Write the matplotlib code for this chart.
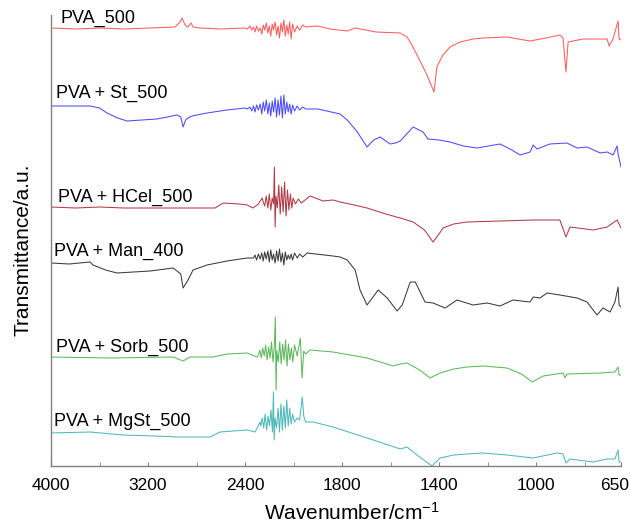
import numpy as np
import matplotlib
matplotlib.use('Agg')
import matplotlib.pyplot as plt
import matplotlib.transforms as mtransforms

plt.rcParams['font.family'] = ['Liberation Sans', 'DejaVu Sans']
plt.rcParams['mathtext.default'] = 'regular'

noise_wn = [2380, 2360, 2345, 2330, 2318, 2305, 2290, 2275, 2262, 2250, 2238, 2225,
            2212, 2200, 2188, 2176, 2165, 2152, 2140, 2128, 2116, 2104, 2092, 2080,
            2068, 2056, 2044, 2032, 2020, 2008, 1996, 1985, 1975, 1962, 1950]

# PVA_500
pva_wn = [4000, 3800, 3596, 3400, 3183, 2977, 2936, 2919, 2895, 2870, 2853, 2845, 2829, 2771, 2600, 2400] + noise_wn + \
         [1900, 1850, 1779, 1746, 1660, 1560, 1532, 1510, 1491, 1470, 1450, 1421, 1409, 1395, 1384, 1355, 1313, 1260,
          1219, 1120, 1025, 960, 902, 889, 877, 868, 806, 707, 699, 683, 662, 658, 650]
pva_t = [438, 437, 438, 437, 438, 439, 444, 448, 441, 439, 442, 443, 439, 438, 437, 438] + \
        [437, 440, 436, 439, 434, 440, 435, 438, 432, 441, 436, 443, 433, 440, 430, 442, 436, 444,
         431, 440, 428, 443, 434, 446, 430, 441, 432, 444, 427, 442, 434, 440, 436, 441, 439] + \
        [440, 437, 435, 438, 434, 433, 429, 420, 411, 401, 391, 374, 399, 406, 411, 419, 424, 427,
         428, 429, 425, 428, 431, 428, 394, 424, 427, 427, 420, 427, 445, 427, 426]

# PVA + St_500
st_wn = [4000, 3678, 3600, 3538, 3450, 3373, 3250, 3126, 3040, 2960, 2930, 2911, 2890, 2870, 2837, 2713, 2550, 2400] + noise_wn + \
        [1900, 1808, 1779, 1740, 1697, 1670, 1643, 1602, 1580, 1560, 1507, 1466, 1446, 1400, 1355, 1300, 1244, 1149,
         1100, 1066, 1025, 1012, 996, 943, 873, 831, 790, 736, 707, 683, 666, 662, 650]
st_t = [360, 360, 358, 353, 348, 345, 346, 347, 349, 351, 349, 339, 346, 348, 350, 353, 356, 358] + \
       [357, 359, 355, 360, 354, 361, 356, 362, 352, 364, 355, 366, 352, 363, 350, 365, 354, 368,
        349, 366, 351, 370, 348, 371, 352, 364, 354, 362, 352, 361, 355, 360, 356, 359, 357] + \
       [357, 352, 346, 335, 319, 326, 329, 322, 323, 325, 339, 334, 327, 326, 324, 320, 318, 322,
        316, 311, 314, 321, 317, 322, 323, 318, 319, 313, 314, 311, 320, 312, 299]

# PVA + HCel_500
hcel_wn = [4000, 3800, 3596, 3400, 3183, 2900, 2647, 2581, 2450, 2383, 2334, 2290, 2259,
           2250, 2238, 2225, 2212, 2200, 2188, 2176, 2165, 2158, 2152, 2145, 2134, 2122, 2110,
           2098, 2086, 2074, 2062, 2050, 2038, 2026, 2014, 2003, 1992, 1980, 1968,
           1932, 1878, 1837, 1808, 1750, 1697, 1620, 1560, 1507, 1460, 1425, 1400, 1384, 1340, 1285, 1149,
           1012, 902, 877, 860, 765, 707, 666, 650]
hcel_t = [259, 258, 259, 258, 258, 258, 258, 263, 262, 261, 258, 262, 268,
          264, 260, 270, 258, 272, 256, 268, 262, 299, 239, 270, 258, 281, 252,
          279, 254, 284, 250, 276, 256, 272, 258, 268, 262, 267, 263,
          270, 265, 266, 264, 261, 258, 252, 248, 244, 236, 224, 232, 238, 242, 244, 245,
          246, 246, 229, 239, 236, 239, 246, 238]

# PVA + Man_400
man_wn = [4000, 3850, 3678, 3654, 3550, 3456, 3183, 2993, 2930, 2911, 2870, 2829, 2713, 2550, 2383,
          2330, 2318, 2305, 2290, 2275, 2262, 2250, 2238, 2225, 2212, 2200, 2188, 2176, 2165,
          2152, 2140, 2128, 2116, 2104, 2092, 2080, 2068, 2056, 2044, 2032, 2020, 2008, 1996,
          1985, 1975, 1962,
          1944, 1837, 1808, 1779, 1746, 1726, 1697, 1651, 1614, 1573, 1552, 1519, 1498, 1458,
          1425, 1375, 1326, 1260, 1202, 1149, 1095, 1025, 1012, 984, 955, 902, 831, 790, 749,
          724, 695, 675, 662, 658, 650]
man_t = [203, 202, 204, 201, 196, 193, 195, 198, 192, 178, 186, 196, 201, 205, 208,
         208, 211, 206, 212, 207, 213, 205, 214, 207, 215, 204, 216, 206, 212,
         203, 215, 205, 217, 204, 213, 201, 214, 206, 211, 207, 212, 206, 213,
         208, 212, 209,
         213, 210, 209, 206, 196, 176, 161, 176, 168, 155, 161, 184, 184, 164,
         163, 158, 166, 161, 163, 160, 166, 164, 169, 168, 173, 171, 168, 164, 151,
         158, 154, 164, 179, 161, 159]

# PVA + Sorb_500
sorb_wn = [4000, 3500, 2993, 2911, 2853, 2664, 2548, 2383, 2301,
           2290, 2278, 2266, 2254, 2242, 2230, 2218, 2206, 2194, 2182, 2170, 2158, 2150, 2144,
           2138, 2126, 2114, 2102, 2090, 2078, 2066, 2054, 2042, 2030, 2018, 2006, 1996, 1985,
           1972, 1965, 1958, 1950,
           1932, 1837, 1697, 1589, 1560, 1532, 1480, 1437, 1396, 1340, 1285, 1219, 1120, 1060, 1016, 971, 889, 881,
           873, 736, 675, 662, 658, 650]
sorb_t = [109, 108, 109, 105, 109, 109, 112, 113, 109,
          111, 116, 108, 118, 110, 121, 106, 119, 108, 124, 104, 120, 149, 76,
          115, 104, 124, 102, 122, 106, 126, 100, 122, 106, 118, 104, 121, 110,
          128, 88, 115, 112,
          116, 114, 108, 100, 102, 103, 96, 88, 93, 97, 99, 100, 98, 92, 84, 90, 93, 88,
          92, 93, 94, 99, 91, 91]

# PVA + MgSt_500
mgst_wn = [4000, 3678, 3406, 3150, 2936, 2688, 2606, 2383, 2317, 2276,
           2270, 2258, 2246, 2234, 2222, 2210, 2198, 2186, 2174, 2166, 2160, 2152, 2140, 2128,
           2116, 2104, 2092, 2080, 2068, 2056, 2044, 2032, 2020, 2008, 1996, 1985, 1975, 1964,
           1958, 1950,
           1919, 1837, 1697, 1560, 1532, 1491, 1429, 1396, 1340, 1285, 1219, 1120, 1012, 914, 889,
           877, 860, 765, 707, 675, 662, 658, 650]
mgst_t = [33, 34, 31, 30, 29, 29, 34, 36, 34, 44,
          40, 48, 38, 52, 36, 50, 40, 56, 34, 74, 26, 48, 38, 58,
          34, 62, 36, 60, 38, 66, 40, 58, 42, 52, 44, 48, 46, 69,
          50, 44,
          44, 39, 28, 17, 19, 11, 0, 8, 11, 12, 13, 11, 8, 13, 12,
          3, 7, 4, 7, 7, 16, 4, 4]

names = ['PVA_500', 'PVA + St_500', 'PVA + HCel_500', 'PVA + Man_400', 'PVA + Sorb_500', 'PVA + MgSt_500']
all_wn = [pva_wn, st_wn, hcel_wn, man_wn, sorb_wn, mgst_wn]
all_t = [pva_t, st_t, hcel_t, man_t, sorb_t, mgst_t]
colors = ['#FF5C5C', '#4B4BFF', '#B23A45', '#3A3A3A', '#5DB85D', '#4FB8B8']
# label anchor (left x, baseline y) in figure pixels
label_pos = [(61, 23), (56, 98), (58, 202), (54, 256), (56, 352), (54, 426)]

tick_wn = [4000, 3200, 2400, 1800, 1400, 1000, 650]
minor_wn = [3600, 2800, 2000, 1600, 1200, 800]


def wn_to_x(w):
    # spectrometer axis: scale doubles below 2000 cm-1
    w = np.asarray(w, dtype=float)
    return np.where(w >= 2000, 4000 - w, 2000 + 2 * (2000 - w))


W, H = 633, 528
fig = plt.figure(figsize=(W / 100, H / 100), dpi=100)
ax = fig.add_axes([51 / W, 62 / H, 570 / W, 451 / H])

for wn, t, c in zip(all_wn, all_t, colors):
    ax.plot(wn_to_x(wn), t, color=c, lw=0.75)

for name, c, (px, py) in zip(names, colors, label_pos):
    fig.text(px / W, 1 - py / H, name, fontsize=13, va='baseline', ha='left', color='black')

ax.set_xlim(0, 4700)
ax.set_ylim(0, 451)
ax.set_xticks(wn_to_x(tick_wn))
ax.set_xticklabels([str(v) for v in tick_wn], fontsize=12.5)
ax.set_xticks(wn_to_x(minor_wn), minor=True)
ax.set_yticks([])
ax.tick_params(axis='x', which='both', direction='in', length=3, color='#808080', pad=9)

# last label sits a little left of the axis end
last = ax.get_xticklabels()[-1]
last.set_transform(last.get_transform() + mtransforms.ScaledTranslation(-6 / 100, 0, fig.dpi_scale_trans))

for s in ['top', 'right']:
    ax.spines[s].set_visible(False)
for s in ['left', 'bottom']:
    ax.spines[s].set_color('#808080')
    ax.spines[s].set_linewidth(1)

ax.set_xlabel(r'Wavenumber/cm$^{-1}$', fontsize=15)
ax.xaxis.set_label_coords((352 - 51) / 570, -36 / 451)
ax.set_ylabel('Transmittance/a.u.', fontsize=15)
ax.yaxis.set_label_coords(-18 / 570, (466 - 250) / 451)

fig.savefig('out.png', dpi=100)
